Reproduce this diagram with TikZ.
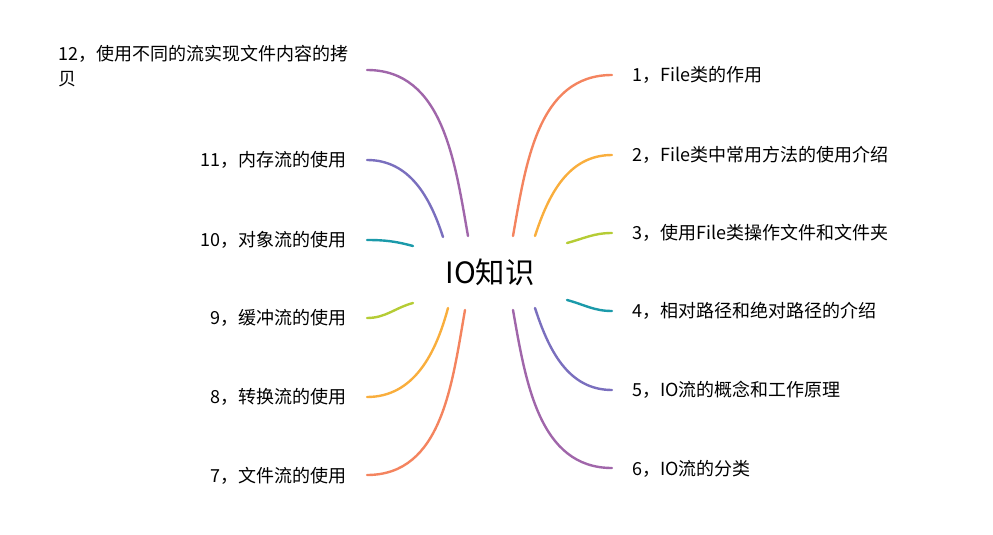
\documentclass[tikz,border=0pt]{standalone}
\usepackage{fontspec}
\setmainfont{Noto Sans CJK SC}
\begin{document}
\begin{tikzpicture}[x=0.75pt,y=-0.75pt,
 br/.style={line width=1.8pt,line cap=round},
 rl/.style={anchor=west,font=\fontsize{13.5}{16}\selectfont,inner sep=0pt},
 ll/.style={anchor=east,font=\fontsize{13.5}{16}\selectfont,inner sep=0pt}]
\definecolor{c1}{HTML}{F4845F}\definecolor{c2}{HTML}{F9AE3D}\definecolor{c3}{HTML}{B5CC35}
\definecolor{c4}{HTML}{1B9AAA}\definecolor{c5}{HTML}{7A6FBE}\definecolor{c6}{HTML}{A066AA}
\useasboundingbox (0,0) rectangle (993,535);
\node[font=\fontsize{22}{24}\selectfont] (c) at (490,272) {IO知识};
% right
\coordinate (r1) at (612,75);\coordinate (r2) at (612,155);\coordinate (r3) at (612,233);
\coordinate (r4) at (612,311);\coordinate (r5) at (612,390);\coordinate (r6) at (612,468);
\draw[br,c1] (513,236) to[out=80,in=180] (r1);
\draw[br,c2] (535,236) to[out=72,in=180] (r2);
\draw[br,c3] (567,243) to[out=15,in=180] (r3);
\draw[br,c4] (567,300) to[out=-15,in=180] (r4);
\draw[br,c5] (535,308) to[out=-72,in=180] (r5);
\draw[br,c6] (513,310) to[out=-80,in=180] (r6);
\node[rl] (t1) at (632,75) {1，File类的作用};
\node[rl] (t2) at (632,155) {2，File类中常用方法的使用介绍};
\node[rl] (t3) at (632,233) {3，使用File类操作文件和文件夹};
\node[rl] (t4) at (632,311) {4，相对路径和绝对路径的介绍};
\node[rl] (t5) at (632,390) {5，IO流的概念和工作原理};
\node[rl] (t6) at (632,469) {6，IO流的分类};
% left
\coordinate (l12) at (367,70);\coordinate (l11) at (367,160);\coordinate (l10) at (367,240);
\coordinate (l9) at (367,318);\coordinate (l8) at (367,397);\coordinate (l7) at (367,475);
\draw[br,c6] (468,236) to[out=100,in=0] (l12);
\draw[br,c5] (443,237) to[out=108,in=0] (l11);
\draw[br,c4] (413,246) to[out=165,in=0] (l10);
\draw[br,c3] (413,303) to[out=-165,in=0] (l9);
\draw[br,c2] (448,308) to[out=-105,in=0] (l8);
\draw[br,c1] (465,310) to[out=-100,in=0] (l7);
\node[anchor=north west,font=\fontsize{13.5}{19}\selectfont,inner sep=0pt,align=left] (t12) at (58,45) {12，使用不同的流实现文件内容的拷\\贝};
\node[ll] (t11) at (347,160) {11，内存流的使用};
\node[ll] (t10) at (347,240) {10，对象流的使用};
\node[ll] (t9) at (347,318) {9，缓冲流的使用};
\node[ll] (t8) at (347,397) {8，转换流的使用};
\node[ll] (t7) at (347,476) {7，文件流的使用};
\end{tikzpicture}
\end{document}
